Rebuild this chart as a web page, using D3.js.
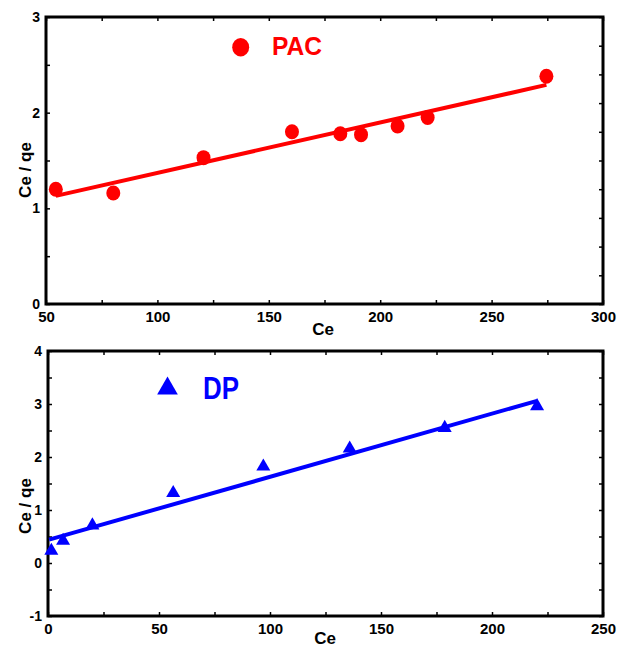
<!DOCTYPE html>
<html>
<head>
<meta charset="utf-8">
<script src="https://cdn.jsdelivr.net/npm/d3@7"></script>
<style>
  body { margin: 0; background: #fff; }
  svg { display: block; }
  text { font-family: "Liberation Sans", Arial, sans-serif; font-weight: bold; }
</style>
</head>
<body>
<svg id="chart" width="629" height="650"></svg>
<script>
// PAC panel
const pacCe    = [54.4, 80.2, 120.7, 160.4, 182.1, 191.4, 207.8, 221.3, 274.6];
const pacRatio = [1.20, 1.16, 1.53, 1.80, 1.78, 1.77, 1.86, 1.95, 2.38];
const pacFitCe    = [54.4, 274.6];
const pacFitRatio = [1.13, 2.29];

// DP panel
const dpCe    = [1.5, 6.8, 20, 56.4, 97, 135.9, 178.7, 220.3];
const dpRatio = [0.23, 0.42, 0.71, 1.32, 1.82, 2.16, 2.55, 2.96];
const dpFitCe    = [0.5, 220.3];
const dpFitRatio = [0.44, 3.06];

// axis ticks
const pacXTicks = [50, 100, 150, 200, 250, 300];
const pacYTicks = [0, 1, 2, 3];
const dpXTicks  = [0, 50, 100, 150, 200, 250];
const dpYTicks  = [-1, 0, 1, 2, 3, 4];

const svg = d3.select('#chart');
const plain = d => String(d);   // keep ascii hyphen for negatives

function panel(opt) {
  const { box, xDomain, yDomain, xTicks, yTicks, color } = opt;
  const x = d3.scaleLinear().domain(xDomain).range([box.left, box.right]);
  const y = d3.scaleLinear().domain(yDomain).range([box.bottom, box.top]);
  const g = svg.append('g');

  // minor / major tick marks (inside)
  const xMinor = d3.range(0, 11).map(i => xDomain[0] + i * (xDomain[1] - xDomain[0]) / 10);
  const yMinorL = d3.range(yDomain[0], yDomain[1] + 0.001, opt.yStepLeft);
  const yMinorR = d3.range(0, 11).map(i => yDomain[0] + i * (yDomain[1] - yDomain[0]) / 10);

  g.append('g').attr('transform', `translate(0,${box.bottom})`)
    .call(d3.axisBottom(x).tickValues(xMinor).tickSize(-4).tickFormat(''))
    .call(a => a.select('.domain').remove());
  g.append('g').attr('transform', `translate(0,${box.top})`)
    .call(d3.axisTop(x).tickValues(xMinor).tickSize(-4).tickFormat(''))
    .call(a => a.select('.domain').remove());
  g.append('g').attr('transform', `translate(${box.left},0)`)
    .call(d3.axisLeft(y).tickValues(yMinorL).tickSize(-4).tickFormat(''))
    .call(a => a.select('.domain').remove());
  g.append('g').attr('transform', `translate(${box.right},0)`)
    .call(d3.axisRight(y).tickValues(yMinorR).tickSize(-4).tickFormat(''))
    .call(a => a.select('.domain').remove());
  g.selectAll('.tick line').attr('stroke', '#000').attr('stroke-width', 1.5);

  // tick labels
  const xl = g.append('g').attr('transform', `translate(0,${box.bottom})`)
    .call(d3.axisBottom(x).tickValues(xTicks).tickSize(0).tickPadding(opt.xPad).tickFormat(plain));
  xl.select('.domain').remove();
  xl.selectAll('text').attr('font-size', 15).attr('fill', '#000');

  const yl = g.append('g').attr('transform', `translate(${box.left},0)`)
    .call(d3.axisLeft(y).tickValues(yTicks).tickSize(0).tickPadding(6).tickFormat(plain));
  yl.select('.domain').remove();
  yl.selectAll('text').attr('font-size', 14).attr('fill', '#000');

  // frame
  g.append('rect')
    .attr('x', box.left).attr('y', box.top)
    .attr('width', box.right - box.left).attr('height', box.bottom - box.top)
    .attr('fill', 'none').attr('stroke', '#000').attr('stroke-width', 3);

  // axis titles
  g.append('text')
    .attr('x', opt.xTitle[0]).attr('y', opt.xTitle[1])
    .attr('text-anchor', 'middle').attr('font-size', 17)
    .text('Ce');
  g.append('text')
    .attr('transform', `translate(${opt.yTitle[0]},${opt.yTitle[1]}) rotate(-90)`)
    .attr('text-anchor', 'middle').attr('font-size', 17)
    .text('Ce / qe');

  // fit line
  g.append('path')
    .datum(opt.fitCe.map((c, i) => [c, opt.fitRatio[i]]))
    .attr('fill', 'none').attr('stroke', color).attr('stroke-width', 4)
    .attr('d', d3.line().x(d => x(d[0])).y(d => y(d[1])));

  return { g, x, y };
}

// ---- top: PAC ----
const pacPanel = panel({
  box: { left: 46, right: 603, top: 17, bottom: 304 },
  xDomain: [50, 300], yDomain: [0, 3],
  xTicks: pacXTicks, yTicks: pacYTicks, yStepLeft: 0.5,
  xPad: 7, color: '#ff0000',
  xTitle: [323, 335], yTitle: [31, 170],
  fitCe: pacFitCe, fitRatio: pacFitRatio
});
pacPanel.g.selectAll('.pt')
  .data(pacCe.map((c, i) => [c, pacRatio[i]]))
  .join('ellipse')
  .attr('cx', d => pacPanel.x(d[0])).attr('cy', d => pacPanel.y(d[1]))
  .attr('rx', 7).attr('ry', 7.5)
  .attr('fill', '#ff0000');
pacPanel.g.append('ellipse').attr('cx', 240.7).attr('cy', 47.3).attr('rx', 8.5).attr('ry', 9.2).attr('fill', '#ff0000');
pacPanel.g.append('text').attr('x', 272).attr('y', 55).attr('font-size', 25.5)
  .attr('textLength', 50).attr('lengthAdjust', 'spacingAndGlyphs')
  .attr('fill', '#ff0000').text('PAC');

// ---- bottom: DP ----
const dpPanel = panel({
  box: { left: 48, right: 603, top: 351, bottom: 616 },
  xDomain: [0, 250], yDomain: [-1, 4],
  xTicks: dpXTicks, yTicks: dpYTicks, yStepLeft: 0.5,
  xPad: 7, color: '#0000ff',
  xTitle: [325, 644], yTitle: [31, 506],
  fitCe: dpFitCe, fitRatio: dpFitRatio
});
const tri = d3.symbol(d3.symbolTriangle, 85);
dpPanel.g.selectAll('.pt')
  .data(dpCe.map((c, i) => [c, dpRatio[i]]))
  .join('path')
  .attr('transform', d => `translate(${dpPanel.x(d[0])},${dpPanel.y(d[1])})`)
  .attr('d', tri)
  .attr('fill', '#0000ff');
dpPanel.g.append('path')
  .attr('transform', 'translate(167.5,388.5)')
  .attr('d', d3.symbol(d3.symbolTriangle, 185))
  .attr('fill', '#0000ff');
dpPanel.g.append('text').attr('x', 203).attr('y', 399).attr('font-size', 31)
  .attr('textLength', 36).attr('lengthAdjust', 'spacingAndGlyphs')
  .attr('fill', '#0000ff').text('DP');
</script>
</body>
</html>
